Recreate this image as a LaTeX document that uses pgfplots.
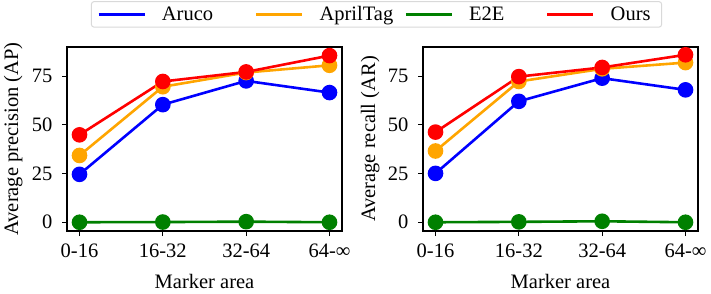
\documentclass[border=0pt]{standalone}
\usepackage{pgfplots}
\pgfplotsset{compat=1.18}
\usepackage{fontspec}
\setmainfont{Liberation Serif}
\definecolor{cAruco}{RGB}{0,0,255}
\definecolor{cApril}{RGB}{255,165,0}
\definecolor{cE2E}{RGB}{0,128,0}
\definecolor{cOurs}{RGB}{255,0,0}
\newcommand{\fs}{\fontsize{20.5}{24}\selectfont}
\pgfplotsset{
  myaxis/.style={
    scale only axis, width=275pt, height=184pt,
    xmin=-0.15, xmax=3.15, ymin=-4.5, ymax=90,
    xtick={0,1,2,3}, xticklabels={\textrm{0-16},\textrm{16-32},\textrm{32-64},\textrm{64-∞}},
    ytick={0,25,50,75}, yticklabels={\textrm{0},\textrm{25},\textrm{50},\textrm{75}},
    axis line style={line width=1.2pt},
    tick style={line width=1.1pt, black},
    tick align=outside, major tick length=5pt,
    xtick pos=bottom, ytick pos=left,
    tick label style={font=\fs},
    yticklabel style={xshift=-6pt},
    xticklabel style={yshift=-4pt},
    label style={font=\fs},
    xlabel={Marker area},
    xlabel style={at={(axis description cs:0.5,-0.31)}, anchor=base},
    every axis plot/.append style={line width=2.6pt, mark=*, mark size=6.5pt},
    clip=false,
  }
}
\begin{document}
\begin{tikzpicture}
\useasboundingbox (0pt,0pt) rectangle (711pt,-293pt);
\begin{axis}[myaxis, at={(67pt,-231pt)}, anchor=south west,
  ylabel={Average precision (AP)},
  ylabel style={at={(axis description cs:-0.149,0.5)}, anchor=south},
  legend columns=4,
  legend style={at={(1.1255,1.25)}, anchor=north, font=\fs, draw=black!15, line width=1pt, rounded corners=3pt,
    inner xsep=6pt, inner ysep=5pt,
    nodes={inner sep=0pt, font=\fs},
    /tikz/every odd column/.append style={column sep=16pt},
    /tikz/every even column/.append style={column sep=0pt}},
  legend image code/.code={\draw[line width=2.6pt] (0pt,0pt) -- (46pt,0pt);},
]
\addplot[cAruco, mark options={fill=cAruco}] coordinates {(0,24.6) (1,60.4) (2,72.6) (3,66.6)};
\addlegendentry{\fs\makebox[93pt][l]{Aruco}}
\addplot[cApril, mark options={fill=cApril}] coordinates {(0,34.3) (1,69.6) (2,76.9) (3,80.6)};
\addlegendentry{\fs\makebox[85pt][l]{AprilTag}}
\addplot[cE2E, mark options={fill=cE2E}] coordinates {(0,0) (1,0.1) (2,0.3) (3,0)};
\addlegendentry{\fs\makebox[77pt][l]{E2E}}
\addplot[cOurs, mark options={fill=cOurs}] coordinates {(0,44.9) (1,72.3) (2,77.2) (3,85.6)};
\addlegendentry{\fs\makebox[45pt][l]{Ours}}
\end{axis}
\begin{axis}[myaxis, at={(423pt,-231pt)}, anchor=south west,
  ylabel={Average recall (AR)},
  ylabel style={at={(axis description cs:-0.145,0.5)}, anchor=south},
]
\addplot[cAruco, mark options={fill=cAruco}] coordinates {(0,25.1) (1,62.1) (2,74.0) (3,68.0)};
\addplot[cApril, mark options={fill=cApril}] coordinates {(0,36.6) (1,72.3) (2,78.8) (3,82.0)};
\addplot[cE2E, mark options={fill=cE2E}] coordinates {(0,0) (1,0.2) (2,0.5) (3,0)};
\addplot[cOurs, mark options={fill=cOurs}] coordinates {(0,46.3) (1,74.8) (2,79.5) (3,86.0)};
\end{axis}
\end{tikzpicture}
\end{document}
